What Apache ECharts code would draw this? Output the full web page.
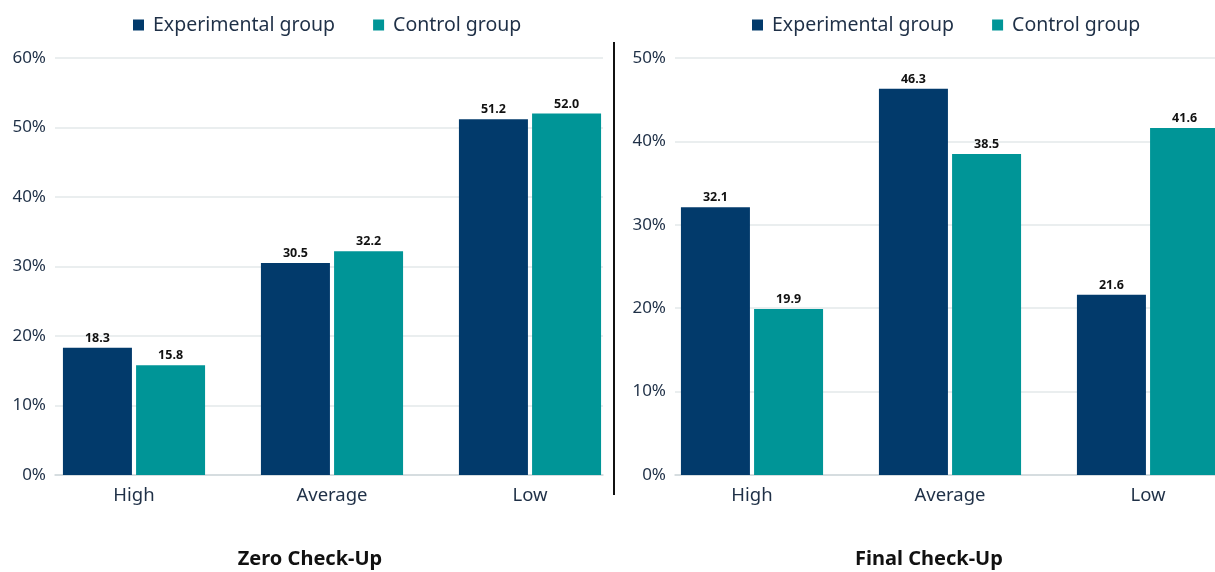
<!DOCTYPE html>
<html><head><meta charset="utf-8">
<script src="https://cdn.jsdelivr.net/npm/echarts@6/dist/echarts.min.js"></script>
<style>html,body{margin:0;padding:0;background:#fff}#c{width:1215px;height:572px}</style>
</head><body><div id="c"></div>
<script>
const categories = ['High', 'Average', 'Low'];
const seriesNames = ['Experimental group', 'Control group'];
const zeroExperimental = [18.3, 30.5, 51.2];
const zeroControl = [15.8, 32.2, 52.0];
const finalExperimental = [32.1, 46.3, 21.6];
const finalControl = [19.9, 38.5, 41.6];
const panelTitles = ['Zero Check-Up', 'Final Check-Up'];
const yMax = [60, 50];

const FONT = 'Noto Sans';
const C_EXP = '#023a6b';
const C_CTL = '#009597';
const TXT = '#1f3047';

const chart = echarts.init(document.getElementById('c'));

function bgAxes(i) {
  return {
    x: { type: 'category', gridIndex: i * 2, data: categories, axisLabel: { show: false }, axisTick: { show: false },
         axisLine: { show: true, lineStyle: { color: '#cfd8dc', width: 1.5 } } },
    y: { type: 'value', gridIndex: i * 2, min: 0, max: yMax[i], interval: 10,
         axisLabel: { formatter: '{value}%', color: TXT, fontFamily: FONT, fontSize: 17, margin: 9 },
         splitLine: { lineStyle: { color: '#e3e8ea', width: 1.5 } }, axisLine: { show: false }, axisTick: { show: false } }
  };
}
function barAxes(i) {
  return {
    x: { type: 'category', gridIndex: i * 2 + 1, data: categories,
         axisLabel: { color: TXT, fontFamily: FONT, fontSize: 18.5, margin: 11 },
         axisTick: { show: false }, axisLine: { show: false } },
    y: { type: 'value', gridIndex: i * 2 + 1, min: 0, max: yMax[i], interval: 10, show: false, splitLine: { show: false } }
  };
}
const b0 = bgAxes(0), r0 = barAxes(0), b1 = bgAxes(1), r1 = barAxes(1);

function barSeries(name, data, color, idx) {
  return {
    type: 'bar', name: name, data: data, xAxisIndex: idx, yAxisIndex: idx,
    barWidth: 69, barGap: '6%',
    itemStyle: { color: color },
    label: { show: true, position: 'top', color: '#111', fontFamily: FONT, fontWeight: 'bold', fontSize: 12.5, distance: 3,
             formatter: p => p.value.toFixed(1) }
  };
}

const legendCommon = {
  icon: 'rect', itemWidth: 11, itemHeight: 11, itemGap: 38, top: 15, padding: 0,
  textStyle: { color: TXT, fontFamily: FONT, fontSize: 19.5, padding: [0, 0, 0, 4] }, data: seriesNames
};

const gridBase = { top: 58, height: 417, outerBoundsMode: 'none', containLabel: false };

chart.setOption({
  animation: false,
  color: [C_EXP, C_CTL],
  legend: [
    Object.assign({}, legendCommon, { left: 133 }),
    Object.assign({}, legendCommon, { left: 752 })
  ],
  title: [
    { text: panelTitles[0], left: 305, top: 544, textAlign: 'center',
      textStyle: { fontFamily: FONT, fontWeight: 'bold', fontSize: 20, color: '#111' } },
    { text: panelTitles[1], left: 924, top: 544, textAlign: 'center',
      textStyle: { fontFamily: FONT, fontWeight: 'bold', fontSize: 20, color: '#111' } }
  ],
  grid: [
    Object.assign({ left: 55, width: 548 }, gridBase),
    Object.assign({ left: 35, width: 594 }, gridBase),
    Object.assign({ left: 675, width: 540 }, gridBase),
    Object.assign({ left: 653, width: 594 }, gridBase)
  ],
  xAxis: [b0.x, r0.x, b1.x, r1.x],
  yAxis: [b0.y, r0.y, b1.y, r1.y],
  series: [
    barSeries(seriesNames[0], zeroExperimental, C_EXP, 1),
    barSeries(seriesNames[1], zeroControl, C_CTL, 1),
    barSeries(seriesNames[0], finalExperimental, C_EXP, 3),
    barSeries(seriesNames[1], finalControl, C_CTL, 3)
  ],
  graphic: [
    { type: 'line', shape: { x1: 614, y1: 42, x2: 614, y2: 495 }, style: { stroke: '#111', lineWidth: 2 } }
  ]
});
</script></body></html>
